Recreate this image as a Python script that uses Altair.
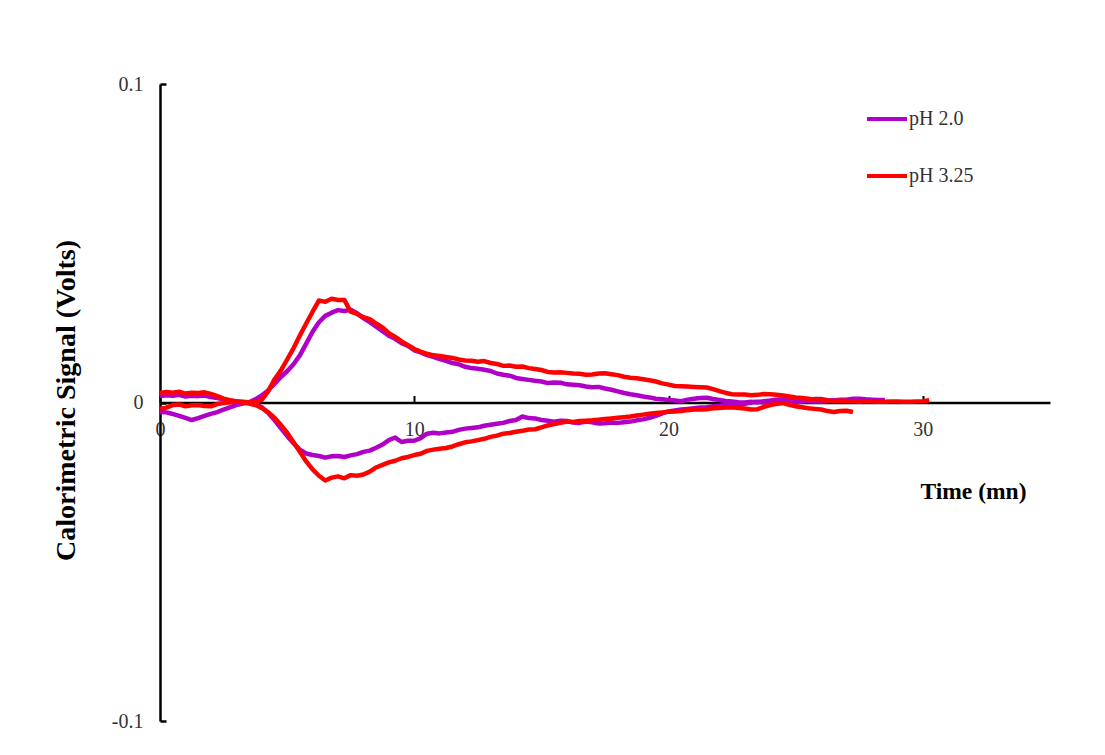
import altair as alt
import pandas as pd

# shared time grid (minutes)
t_grid = [0, 0.25, 0.5, 0.75, 1, 1.25, 1.5, 1.75, 2, 2.25, 2.5, 2.75, 3, 3.25, 3.5, 3.75,
          4, 4.25, 4.5, 4.75, 5, 5.25, 5.5, 5.75, 6, 6.25, 6.5, 6.75, 7, 7.25, 7.5, 7.75,
          8, 8.25, 8.5, 8.75, 9, 9.25, 9.5, 9.75, 10, 10.25, 10.5, 10.75, 11, 11.25, 11.5,
          11.75, 12, 12.25, 12.5, 12.75, 13, 13.25, 13.5, 13.75, 14, 14.25, 14.5, 14.75,
          15, 15.25, 15.5, 15.75, 16, 16.25, 16.5, 16.75, 17, 17.25, 17.5, 17.75, 18,
          18.25, 18.5, 18.75, 19, 19.25, 19.5, 19.75, 20, 20.25, 20.5, 20.75, 21, 21.25,
          21.5, 21.75, 22, 22.25, 22.5, 22.75, 23, 23.25, 23.5, 23.75, 24, 24.25, 24.5,
          24.75, 25, 25.25, 25.5, 25.75, 26, 26.25, 26.5, 26.75, 27, 27.25, 27.5, 27.75,
          28, 28.25, 28.5, 28.75, 29, 29.25, 29.5, 29.75, 30, 30.25]

# pH 2.0 — upper (exothermic) branch
v_ph2_up = [0.0020, 0.0023, 0.0021, 0.0024, 0.0019, 0.0021, 0.0020, 0.0022,
            0.0017, 0.0014, 0.0010, 0.0006, 0.0003, 0.0002, 0.0001, 0.0010,
            0.0022, 0.0038, 0.0058, 0.0080, 0.0098, 0.0120, 0.0148, 0.0185,
            0.0222, 0.0252, 0.0272, 0.0282, 0.0290, 0.0287, 0.0291, 0.0280,
            0.0265, 0.0252, 0.0238, 0.0224, 0.0210, 0.0200, 0.0186, 0.0178,
            0.0164, 0.0157, 0.0149, 0.0143, 0.0136, 0.0131, 0.0124, 0.0120,
            0.0112, 0.0108, 0.0106, 0.0103, 0.0099, 0.0091, 0.0087, 0.0084,
            0.0077, 0.0074, 0.0071, 0.0068, 0.0066, 0.0061, 0.0063, 0.0062,
            0.0057, 0.0056, 0.0054, 0.0050, 0.0048, 0.0049, 0.0044, 0.0040,
            0.0035, 0.0030, 0.0026, 0.0023, 0.0019, 0.0016, 0.0012, 0.0010,
            0.0008, 0.0006, 0.0004, 0.0009, 0.0012, 0.0014, 0.0015, 0.0011,
            0.0008, 0.0005, 0.0003, 0.0001, 0.0000, 0.0002, 0.0001, 0.0004,
            0.0006, 0.0009, 0.0010, 0.0013, 0.0012, 0.0009, 0.0008, 0.0011,
            0.0011, 0.0007, 0.0006, 0.0009, 0.0009, 0.0012, 0.0012, 0.0010,
            0.0009, 0.0008, 0.0007]

# pH 2.0 — lower (endothermic) branch
v_ph2_dn = [-0.0030, -0.0031, -0.0036, -0.0042, -0.0048, -0.0055, -0.0049, -0.0042,
            -0.0036, -0.0030, -0.0022, -0.0015, -0.0008, -0.0003, 0.0000, -0.0004,
            -0.0015, -0.0032, -0.0055, -0.0080, -0.0105, -0.0128, -0.0148, -0.0160,
            -0.0165, -0.0168, -0.0173, -0.0169, -0.0168, -0.0171, -0.0166, -0.0162,
            -0.0155, -0.0151, -0.0142, -0.0132, -0.0118, -0.0110, -0.0124, -0.0120,
            -0.0120, -0.0112, -0.0098, -0.0095, -0.0097, -0.0094, -0.0092, -0.0086,
            -0.0082, -0.0080, -0.0078, -0.0073, -0.0070, -0.0067, -0.0064, -0.0058,
            -0.0055, -0.0044, -0.0049, -0.0050, -0.0055, -0.0057, -0.0060, -0.0057,
            -0.0058, -0.0063, -0.0064, -0.0060, -0.0062, -0.0066, -0.0065, -0.0063,
            -0.0064, -0.0062, -0.0060, -0.0056, -0.0053, -0.0048, -0.0042, -0.0034,
            -0.0028, -0.0025, -0.0022, -0.0020, -0.0018, -0.0016, -0.0015, -0.0012,
            -0.0010, -0.0008, -0.0006, -0.0003, -0.0004, 0.0000, 0.0002, 0.0000,
            -0.0002, 0.0002, 0.0004, 0.0001, 0.0000, 0.0003, 0.0005, 0.0003,
            0.0002, 0.0005, 0.0006, 0.0004, 0.0003, 0.0006, 0.0007, 0.0005,
            0.0005, 0.0007, 0.0008]

# pH 3.25 — upper (exothermic) branch
v_ph3_up = [0.0030, 0.0033, 0.0031, 0.0034, 0.0028, 0.0031, 0.0030, 0.0032,
            0.0027, 0.0020, 0.0012, 0.0007, 0.0003, 0.0001, 0.0000, 0.0002,
            0.0008, 0.0035, 0.0072, 0.0100, 0.0135, 0.0170, 0.0210, 0.0248,
            0.0285, 0.0320, 0.0316, 0.0326, 0.0322, 0.0322, 0.0285, 0.0278,
            0.0268, 0.0262, 0.0248, 0.0236, 0.0218, 0.0206, 0.0192, 0.0180,
            0.0168, 0.0160, 0.0153, 0.0148, 0.0146, 0.0143, 0.0140, 0.0135,
            0.0132, 0.0131, 0.0128, 0.0130, 0.0124, 0.0121, 0.0115, 0.0116,
            0.0112, 0.0113, 0.0108, 0.0105, 0.0102, 0.0096, 0.0094, 0.0095,
            0.0093, 0.0091, 0.0090, 0.0087, 0.0088, 0.0091, 0.0092, 0.0089,
            0.0086, 0.0081, 0.0078, 0.0076, 0.0073, 0.0070, 0.0066, 0.0060,
            0.0056, 0.0052, 0.0051, 0.0050, 0.0049, 0.0048, 0.0047, 0.0042,
            0.0036, 0.0030, 0.0026, 0.0025, 0.0025, 0.0023, 0.0024, 0.0027,
            0.0026, 0.0024, 0.0022, 0.0019, 0.0016, 0.0014, 0.0012, 0.0009,
            0.0008, 0.0006, 0.0004, 0.0006, 0.0005, 0.0003, 0.0002, 0.0004,
            0.0003, 0.0002, 0.0002, 0.0003, 0.0003, 0.0002, 0.0002, 0.0003,
            0.0004, 0.0007]

# pH 3.25 — lower (endothermic) branch
v_ph3_dn = [-0.0020, -0.0016, -0.0008, -0.0006, -0.0012, -0.0009, -0.0008, -0.0011,
            -0.0012, -0.0005, -0.0002, 0.0001, 0.0003, 0.0001, -0.0003, -0.0008,
            -0.0017, -0.0030, -0.0048, -0.0070, -0.0095, -0.0125, -0.0155, -0.0185,
            -0.0210, -0.0230, -0.0245, -0.0236, -0.0232, -0.0238, -0.0228, -0.0230,
            -0.0226, -0.0217, -0.0204, -0.0196, -0.0188, -0.0183, -0.0175, -0.0171,
            -0.0165, -0.0161, -0.0152, -0.0148, -0.0145, -0.0143, -0.0138, -0.0131,
            -0.0125, -0.0122, -0.0118, -0.0114, -0.0108, -0.0104, -0.0098, -0.0096,
            -0.0092, -0.0089, -0.0085, -0.0084, -0.0078, -0.0072, -0.0068, -0.0064,
            -0.0060, -0.0061, -0.0058, -0.0057, -0.0056, -0.0054, -0.0052, -0.0050,
            -0.0048, -0.0046, -0.0044, -0.0041, -0.0038, -0.0035, -0.0033, -0.0031,
            -0.0029, -0.0028, -0.0027, -0.0024, -0.0022, -0.0022, -0.0021, -0.0018,
            -0.0017, -0.0016, -0.0015, -0.0017, -0.0019, -0.0022, -0.0021, -0.0014,
            -0.0008, -0.0004, -0.0002, -0.0007, -0.0012, -0.0015, -0.0018, -0.0020,
            -0.0022, -0.0027, -0.0030, -0.0027, -0.0026, -0.0030]

series_names = ["pH 2.0", "pH 3.25"]
series_colors = ["#B000C8", "#FF0000"]
x_ticks = [0, 10, 20, 30]
y_ticks = [-0.1, 0, 0.1]


def frame(v, name, branch):
    return pd.DataFrame({"t": t_grid[:len(v)], "v": v, "series": name, "branch": branch})


df_ph2 = pd.concat([frame(v_ph2_up, "pH 2.0", "up"), frame(v_ph2_dn, "pH 2.0", "down")])
df_ph3 = pd.concat([frame(v_ph3_up, "pH 3.25", "up"), frame(v_ph3_dn, "pH 3.25", "down")])

W, H = 890, 637
FONT = "Liberation Serif"
LABEL_COLOR = "#333333"

x_scale = alt.Scale(domain=[0, 35], nice=False, zero=False)
y_scale = alt.Scale(domain=[-0.1, 0.1], nice=False)
color = alt.Color("series:N",
                  scale=alt.Scale(domain=series_names, range=series_colors),
                  legend=alt.Legend(title=None, orient="none", legendX=705, legendY=13,
                                    symbolType="stroke", symbolSize=1600,
                                    symbolStrokeWidth=4, labelFont=FONT,
                                    labelFontSize=20, labelColor=LABEL_COLOR,
                                    labelOffset=0, rowPadding=25, padding=0))

x_main = alt.X("t:Q", scale=x_scale,
               axis=alt.Axis(orient="bottom", offset=-H / 2, values=x_ticks,
                             grid=False, ticks=False, tickSize=0, domainColor="black",
                             domainWidth=2.5, labelFont=FONT, labelFontSize=20,
                             labelColor=LABEL_COLOR, labelPadding=17, labelFlush=False,
                             title="Time (mn)", titleFont=FONT, titleFontSize=23.5,
                             titleFontWeight="bold", titleColor="black",
                             titleX=813, titleY=89, titleAlign="center",
                             titleBaseline="middle"))
y_main = alt.Y("v:Q", scale=y_scale,
               axis=alt.Axis(orient="left", values=y_ticks, grid=False, ticks=False,
                             tickSize=0, domainColor="black", domainWidth=2.5,
                             labelFont=FONT, labelFontSize=20, labelColor=LABEL_COLOR,
                             labelPadding=17, labelExpr="toString(datum.value)",
                             title="Calorimetric Signal (Volts)", titleFont=FONT,
                             titleFontSize=28, titleFontWeight="bold",
                             titleColor="black", titleX=-94, titleY=316,
                             titleAlign="center", titleBaseline="middle"))

x_tick = alt.X("t:Q", scale=x_scale,
               axis=alt.Axis(orient="top", offset=-H / 2, values=x_ticks, grid=False,
                             domain=False, labels=False, ticks=True, tickSize=7,
                             tickWidth=2, tickColor="black", title=None))
y_tick = alt.Y("v:Q", scale=y_scale,
               axis=alt.Axis(orient="right", offset=-W, values=y_ticks, grid=False,
                             domain=False, labels=False, ticks=True, tickSize=6,
                             tickWidth=2.5, tickColor="black", title=None))

purple = alt.Chart(df_ph2).mark_line(strokeWidth=4.5, strokeJoin="round").encode(
    x=x_main, y=y_main, color=color, detail="branch:N", order="t:Q")
red = alt.Chart(df_ph3).mark_line(strokeWidth=4.5, strokeJoin="round").encode(
    x=x_tick, y=y_tick, color=color, detail="branch:N", order="t:Q")

chart = alt.layer(purple, red).resolve_axis(x="independent", y="independent").properties(
    width=W, height=H, autosize=alt.AutoSizeParams(type="none"),
    padding={"left": 152, "top": 76, "right": 47, "bottom": 26},
    background="white",
).configure_view(stroke=None)

chart.save("out.html", embed_options={"renderer": "svg", "actions": False})
